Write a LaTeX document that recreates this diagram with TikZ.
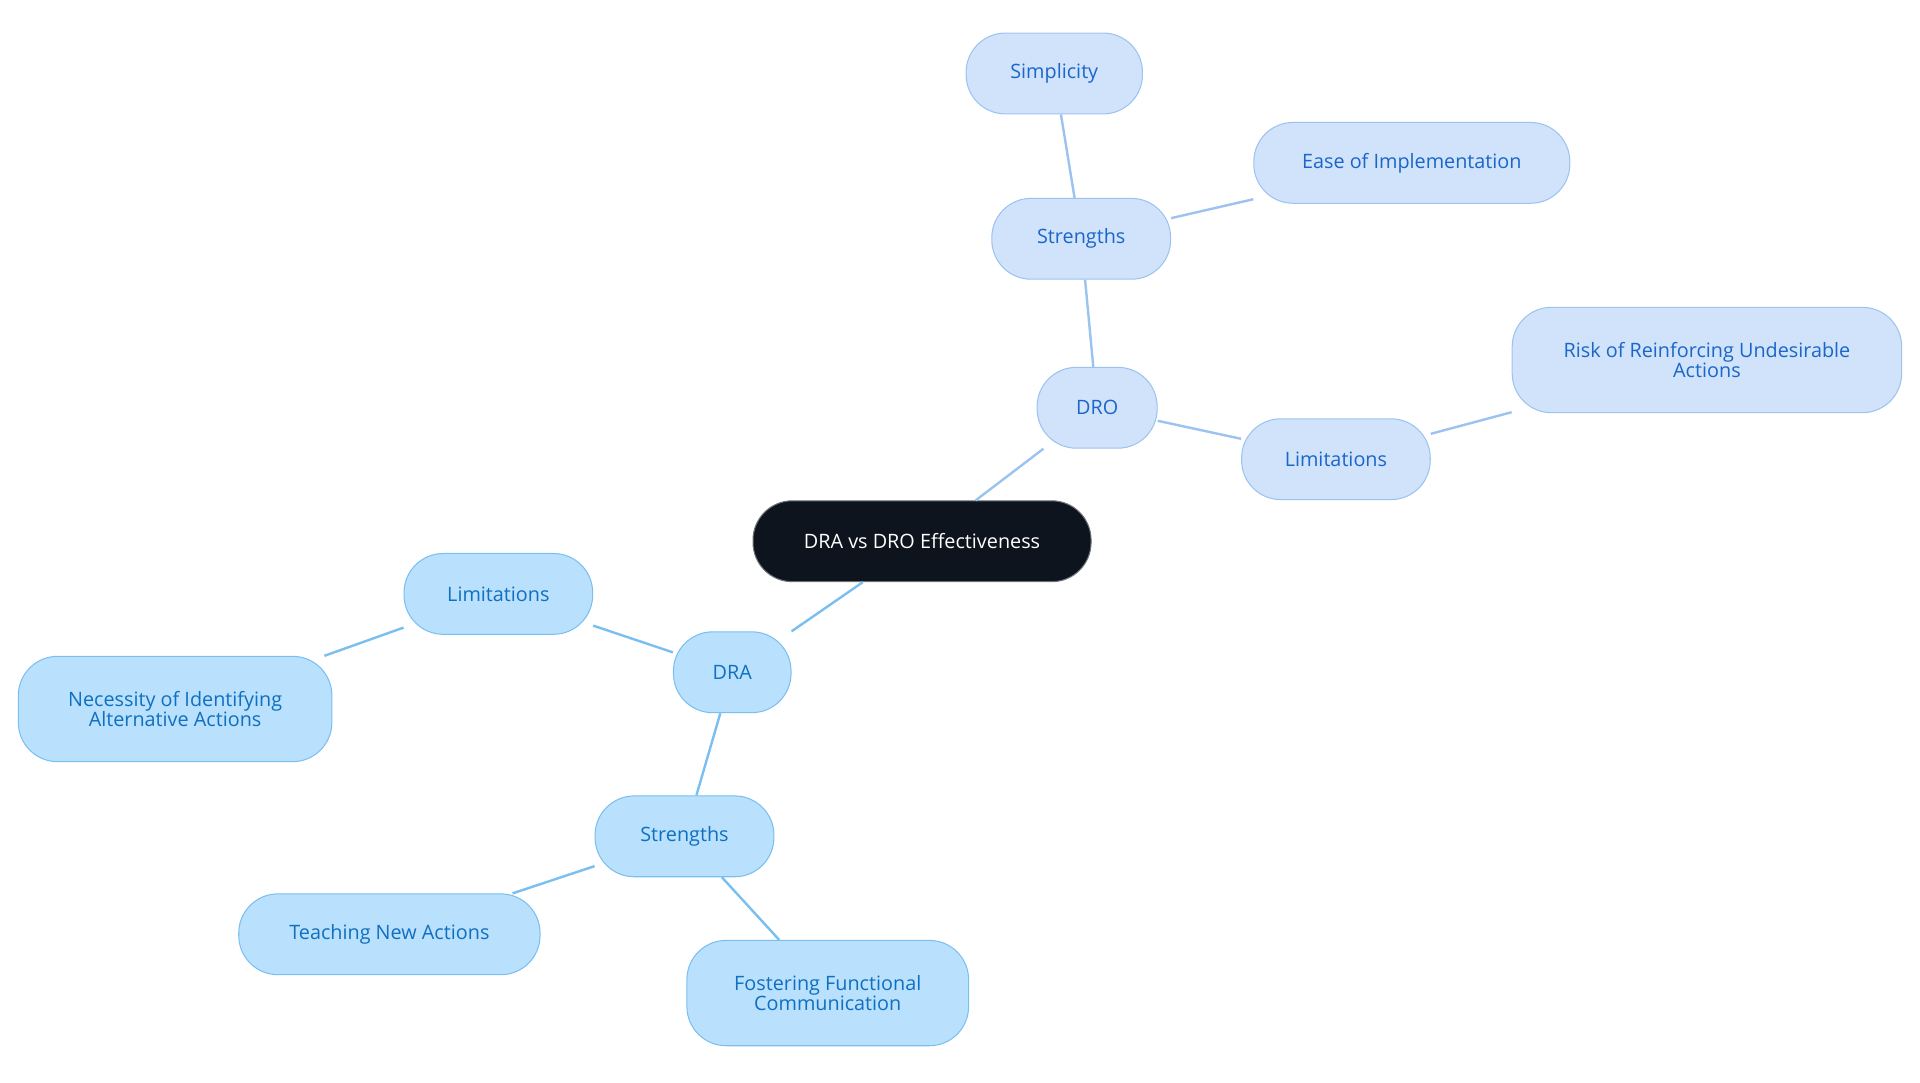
\documentclass[tikz,border=0pt]{standalone}
\usepackage{fontspec}
\setmainfont{Open Sans}
\definecolor{rootfill}{HTML}{0D141E}
\definecolor{drofill}{HTML}{D0E3FA}
\definecolor{drodraw}{HTML}{9CC3F0}
\definecolor{drotext}{HTML}{1B66C9}
\definecolor{drafill}{HTML}{B9E0FD}
\definecolor{dradraw}{HTML}{7BBFF0}
\definecolor{dratext}{HTML}{1070C0}
\tikzset{
  pill/.style={rounded corners=0.8cm, line width=0.6pt, align=center,
    font=\fontsize{11.5}{12}\selectfont, minimum height=1.65cm, inner sep=0pt},
  rootbox/.style={pill, fill=rootfill, draw=rootfill!60, text=white},
  drobox/.style={pill, fill=drofill, draw=drodraw, text=drotext},
  drabox/.style={pill, fill=drafill, draw=dradraw, text=dratext},
  tallbox/.style={minimum height=2.15cm},
  droline/.style={draw=drodraw, line width=1.4pt},
  draline/.style={draw=dradraw, line width=1.4pt}
}
\begin{document}
\begin{tikzpicture}[x=0.025cm, y=-0.025cm]
\useasboundingbox (0,0) rectangle (1568,884);
% root
\node[rootbox, minimum width=6.9cm] (root) at (753,442) {DRA vs DRO Effectiveness};
% DRO branch
\node[drobox, minimum width=2.45cm] (dro) at (896,333) {DRO};
\node[drobox, minimum width=3.65cm] (drostr) at (883,195) {Strengths};
\node[drobox, minimum width=3.6cm] (simp) at (861,60) {Simplicity};
\node[drobox, minimum width=6.45cm] (ease) at (1153,133) {Ease of Implementation};
\node[drobox, minimum width=3.85cm] (drolim) at (1091,375) {Limitations};
\node[drobox, tallbox, minimum width=7.95cm] (risk) at (1394,294) {Risk of Reinforcing Undesirable\\Actions};
% DRA branch
\node[drabox, minimum width=2.4cm] (dra) at (598,549) {DRA};
\node[drabox, minimum width=3.85cm] (dralim) at (407,485) {Limitations};
\node[drabox, tallbox, minimum width=6.4cm] (necess) at (143,579) {Necessity of Identifying\\Alternative Actions};
\node[drabox, minimum width=3.65cm] (drastr) at (559,683) {Strengths};
\node[drabox, minimum width=6.15cm] (teach) at (318,763) {Teaching New Actions};
\node[drabox, tallbox, minimum width=5.75cm] (foster) at (676,811) {Fostering Functional\\Communication};
% connectors
\begin{scope}[on background layer/.style={}]
\end{scope}
\draw[droline] (root) -- (dro);
\draw[droline] (dro) -- (drostr);
\draw[droline] (drostr) -- (simp);
\draw[droline] (drostr) -- (ease);
\draw[droline] (dro) -- (drolim);
\draw[droline] (drolim) -- (risk);
\draw[draline] (root) -- (dra);
\draw[draline] (dra) -- (dralim);
\draw[draline] (dralim) -- (necess);
\draw[draline] (dra) -- (drastr);
\draw[draline] (drastr) -- (teach);
\draw[draline] (drastr) -- (foster);
\end{tikzpicture}
\end{document}
